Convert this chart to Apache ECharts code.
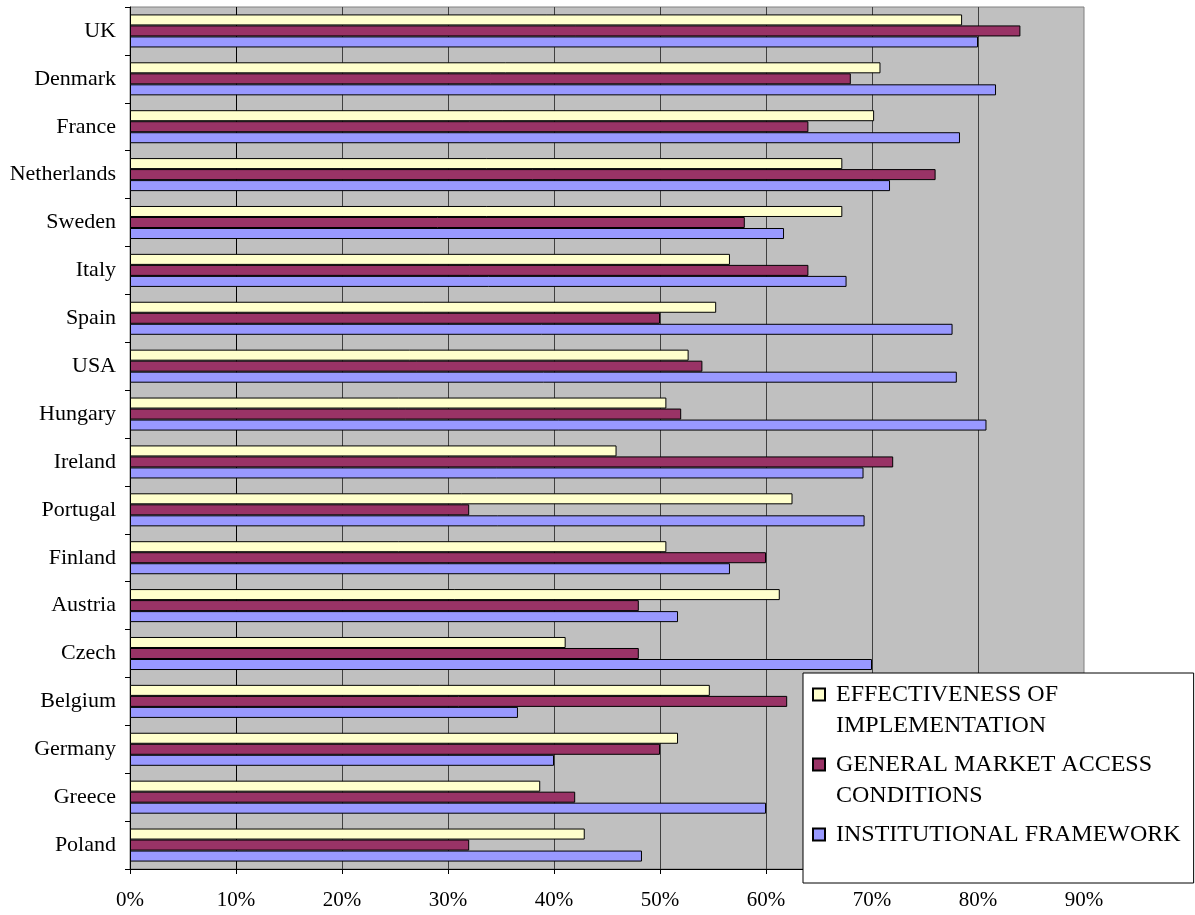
<!DOCTYPE html>
<html style="height: 100%">
   <head>
       <meta charset="utf-8">
   </head>
   <body style="height: 100%; margin: 0; background: #fff">
       <div id="container" style="width: 1195px; height: 915px"></div>
       <script type="text/javascript" src="https://cdn.jsdelivr.net/npm/echarts/dist/echarts.min.js"></script>
       <script type="text/javascript">
var countries = ['UK','Denmark','France','Netherlands','Sweden','Italy','Spain','USA','Hungary',
    'Ireland','Portugal','Finland','Austria','Czech','Belgium','Germany','Greece','Poland'];
var effectiveness = [78.5,70.8,70.2,67.2,67.2,56.6,55.3,52.7,50.6,45.9,62.5,50.6,61.3,41.1,54.7,51.7,38.7,42.9];
var marketAccess = [84,68,64,76,58,64,50,54,52,72,32,60,48,48,62,50,42,32];
var institutional = [80,81.7,78.3,71.7,61.7,67.6,77.6,78,80.8,69.2,69.3,56.6,51.7,70,36.6,40,60,48.3];
var seriesNames = ['EFFECTIVENESS OF IMPLEMENTATION','GENERAL MARKET ACCESS CONDITIONS','INSTITUTIONAL FRAMEWORK'];
var legendText = {
    'EFFECTIVENESS OF IMPLEMENTATION': 'EFFECTIVENESS OF\nIMPLEMENTATION',
    'GENERAL MARKET ACCESS CONDITIONS': 'GENERAL MARKET ACCESS\nCONDITIONS',
    'INSTITUTIONAL FRAMEWORK': 'INSTITUTIONAL FRAMEWORK\n '
};
var colors = ['#FFFFCC','#993366','#9999FF'];
var font = 'Liberation Serif';

var dom = document.getElementById("container");
var myChart = echarts.init(dom);

// square at the top of a taller box, so it sits on the first text line
var legendIcon = 'path://M0,0L12,0L12,12L0,12Z M0,43';

function makeSeries(i, data) {
    return {
        name: seriesNames[i],
        type: 'bar',
        data: data,
        barGap: '0%',
        barCategoryGap: '31%',
        itemStyle: {color: colors[i], borderColor: '#000', borderWidth: 1}
    };
}

var gridColors = ['#000','#404040','#404040','#404040','#404040','#404040','#404040','#404040','#404040','#808080'];

option = {
    animation: false,
    grid: {
        left: 130, right: 111, top: 7, bottom: 46,
        show: true,
        backgroundColor: '#C0C0C0',
        borderColor: '#808080',
        borderWidth: 1,
        outerBoundsMode: 'none'
    },
    legend: {
        orient: 'vertical',
        left: 803,
        top: 673,
        data: seriesNames,
        icon: legendIcon,
        itemWidth: 12,
        itemHeight: 43,
        itemGap: 8,
        padding: [6, 13, 2, 9],
        backgroundColor: '#fff',
        borderColor: '#000',
        borderWidth: 1,
        selectedMode: false,
        formatter: function (name) { return legendText[name]; },
        textStyle: {fontFamily: font, fontSize: 24, lineHeight: 31, color: '#000', padding: [0, 0, 0, 6]}
    },
    xAxis: {
        type: 'value',
        min: 0,
        max: 90,
        interval: 10,
        axisLine: {show: true, lineStyle: {color: '#000', width: 1}},
        axisTick: {show: true, length: 5, lineStyle: {color: '#000'}},
        axisLabel: {formatter: '{value}%', fontFamily: font, fontSize: 21, color: '#000', margin: 21},
        splitLine: {show: true, showMinLine: false, showMaxLine: false, lineStyle: {color: gridColors, width: 1}}
    },
    yAxis: {
        type: 'category',
        inverse: true,
        data: countries,
        axisLine: {show: true, lineStyle: {color: '#000', width: 1}},
        axisTick: {show: true, length: 5, interval: 0, lineStyle: {color: '#000'}},
        axisLabel: {fontFamily: font, fontSize: 22, color: '#000', margin: 14, interval: 0}
    },
    series: [
        makeSeries(0, effectiveness),
        makeSeries(1, marketAccess),
        makeSeries(2, institutional)
    ]
};

if (option && typeof option === "object") {
    myChart.setOption(option, true);
}
       </script>
   </body>
</html>
